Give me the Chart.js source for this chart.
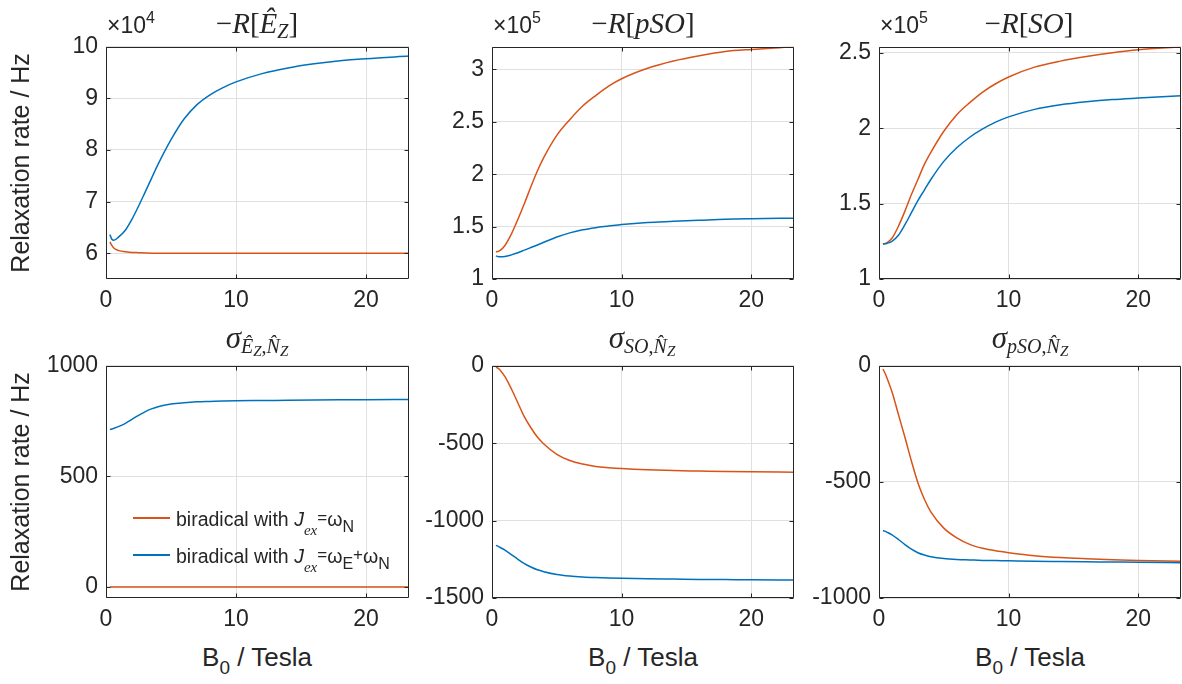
<!DOCTYPE html>
<html>
<head>
<meta charset="utf-8">
<script src="https://cdn.jsdelivr.net/npm/chart.js@4.4.0/dist/chart.umd.min.js"></script>
<style>
body { margin: 0; background: #fff; }
#fig { position: relative; width: 1182px; height: 684px; overflow: hidden; color: #262626;
       font-family: "Liberation Sans", Arial, sans-serif; }
.panel { position: absolute; }
.ttl { position: absolute; white-space: nowrap; transform: translateX(-50%);
       font-family: "Liberation Serif", "DejaVu Serif", serif; font-size: 29px; line-height: 29px; }
.ttl i { font-style: italic; }
.ttl .s1 { font-size: 20px; position: relative; top: 5px; }
.ttl .s2 { font-size: 15px; position: relative; top: 3px; }
.ttl.bt { font-size: 31px; line-height: 31px; }
.expo { position: absolute; font-size: 23px; line-height: 23px; white-space: nowrap; }
.expo span { font-size: 16px; position: relative; top: -10px; }
.xlab { position: absolute; font-size: 26px; line-height: 26px; white-space: nowrap; transform: translateX(-50%); }
.xlab span { font-size: 19px; position: relative; top: 8px; }
.leg { position: absolute; font-size: 19.5px; line-height: 19px; white-space: nowrap; }
.leg .sw { position: absolute; left: -43px; top: 7px; width: 37px; height: 1.6px; }
.leg .ex { font-family: "Liberation Serif", serif; font-style: italic; font-size: 15px; position: relative; top: 9px; }
.leg .eq { font-size: 17px; position: relative; top: -3px; }
.leg .sb { font-size: 16px; position: relative; top: 6px; }
</style>
</head>
<body>
<div id="fig">
  <div class="panel" style="left:0px;top:25px"><canvas id="c1" width="413" height="294"></canvas></div>
  <div class="panel" style="left:402px;top:25px"><canvas id="c2" width="396" height="294"></canvas></div>
  <div class="panel" style="left:789px;top:25px"><canvas id="c3" width="393" height="294"></canvas></div>
  <div class="panel" style="left:0px;top:344px"><canvas id="c4" width="413" height="294"></canvas></div>
  <div class="panel" style="left:402px;top:344px"><canvas id="c5" width="396" height="294"></canvas></div>
  <div class="panel" style="left:789px;top:344px"><canvas id="c6" width="393" height="294"></canvas></div>

  <div class="expo" style="left:107px;top:14px">×10<span>4</span></div>
  <div class="expo" style="left:493px;top:14px">×10<span>5</span></div>
  <div class="expo" style="left:880px;top:14px">×10<span>5</span></div>

  <div class="ttl" style="left:257px;top:9px">−<i>R</i>[<i>Ê</i><i class="s1">Z</i>]</div>
  <div class="ttl" style="left:643px;top:9px">−<i>R</i>[<i>pSO</i>]</div>
  <div class="ttl" style="left:1029px;top:9px">−<i>R</i>[<i>SO</i>]</div>

  <div class="ttl bt" style="left:257px;top:322px"><i>σ</i><span class="s1"><i>Ê</i><i class="s2">Z</i>,<i>N̂</i><i class="s2">Z</i></span></div>
  <div class="ttl bt" style="left:642px;top:322px"><i>σ</i><span class="s1"><i>SO</i>,<i>N̂</i><i class="s2">Z</i></span></div>
  <div class="ttl bt" style="left:1030px;top:322px"><i>σ</i><span class="s1"><i>pSO</i>,<i>N̂</i><i class="s2">Z</i></span></div>

  <div class="xlab" style="left:257px;top:644px">B<span>0</span> / Tesla</div>
  <div class="xlab" style="left:643px;top:644px">B<span>0</span> / Tesla</div>
  <div class="xlab" style="left:1030px;top:644px">B<span>0</span> / Tesla</div>

  <div class="leg" style="left:176px;top:510px"><div class="sw" style="background:#D95319"></div>biradical with <i>J</i><span class="ex">ex</span><span class="eq">=</span>ω<span class="sb">N</span></div>
  <div class="leg" style="left:176px;top:547px"><div class="sw" style="background:#0072BD"></div>biradical with <i>J</i><span class="ex">ex</span><span class="eq">=</span>ω<span class="sb">E</span><span class="eq">+</span>ω<span class="sb">N</span></div>
</div>

<script>
// magnetic field, Tesla
const B0 = [0.3, 0.45, 0.6, 1, 1.5, 2, 2.5, 3, 3.5, 4, 5, 6, 7, 8, 9, 10, 12, 14, 16, 18, 20, 23.3];

// -R[Ez]  (x10^4 Hz)
const rEz_N  = [6.22, 6.15, 6.10, 6.05, 6.03, 6.015, 6.01, 6.005, 6.0, 6.0, 6.0, 6.0, 6.0, 6.0, 6.0, 6.0, 6.0, 6.0, 6.0, 6.0, 6.0, 6.0];
const rEz_EN = [6.36, 6.27, 6.25, 6.32, 6.45, 6.66, 6.91, 7.18, 7.45, 7.72, 8.2, 8.6, 8.88, 9.07, 9.21, 9.32, 9.48, 9.59, 9.67, 9.73, 9.77, 9.82];

// -R[pSO]  (x10^5 Hz)
const rPSO_N  = [1.26, 1.262, 1.27, 1.32, 1.43, 1.57, 1.72, 1.88, 2.03, 2.16, 2.37, 2.52, 2.65, 2.75, 2.84, 2.91, 3.01, 3.08, 3.13, 3.17, 3.19, 3.215];
const rPSO_EN = [1.22, 1.215, 1.213, 1.215, 1.23, 1.25, 1.275, 1.30, 1.325, 1.35, 1.40, 1.44, 1.47, 1.49, 1.505, 1.52, 1.54, 1.55, 1.56, 1.57, 1.575, 1.58];

// -R[SO]  (x10^5 Hz)
const rSO_N  = [1.232, 1.235, 1.24, 1.27, 1.35, 1.45, 1.56, 1.66, 1.76, 1.84, 1.98, 2.09, 2.17, 2.24, 2.295, 2.34, 2.405, 2.445, 2.475, 2.5, 2.52, 2.54];
const rSO_EN = [1.232, 1.233, 1.236, 1.25, 1.29, 1.36, 1.44, 1.52, 1.59, 1.66, 1.78, 1.87, 1.94, 1.995, 2.04, 2.075, 2.125, 2.155, 2.175, 2.19, 2.20, 2.215];

// sigma Ez,Nz  (Hz)
const sEz_N  = [0, 0, 0, 0, 0, 0, 0, 0, 0, 0, 0, 0, 0, 0, 0, 0, 0, 0, 0, 0, 0, 0];
const sEz_EN = [712, 714, 717, 726, 740, 758, 776, 792, 805, 815, 827, 833, 837, 839, 841, 842, 843, 844, 845, 846, 847, 848];

// sigma SO,Nz  (Hz)
const sSO_N  = [-10, -15, -25, -70, -150, -240, -330, -400, -460, -505, -572, -612, -635, -650, -658, -664, -672, -677, -680, -683, -685, -687];
const sSO_EN = [-1160, -1165, -1172, -1190, -1220, -1250, -1278, -1300, -1318, -1330, -1348, -1358, -1364, -1368, -1371, -1373, -1376, -1378, -1380, -1381, -1382, -1384];

// sigma pSO,Nz  (Hz)
const sPSO_N  = [-14, -30, -50, -112, -210, -308, -410, -504, -575, -629, -699, -741, -769, -786, -797, -805, -818, -826, -831, -835, -838, -842];
const sPSO_EN = [-710, -712, -716, -728, -748, -770, -790, -805, -815, -822, -830, -834, -836, -838, -839, -840, -842, -843, -844, -845, -846, -848];

const xTicks = [0, 10, 20];
const yTicks1 = [6, 7, 8, 9, 10];
const yTicks2 = [1, 1.5, 2, 2.5, 3];
const yTicks3 = [1, 1.5, 2, 2.5];
const yTicks4 = [0, 500, 1000];
const yTicks5 = [-1500, -1000, -500, 0];
const yTicks6 = [-1000, -500, 0];

const AXIS = '#262626';
const GRID = '#e0e0e0';

// matlab style box with inward ticks on all four sides
const boxPlugin = {
    id: 'box',
    afterDraw(chart) {
        const ctx = chart.ctx;
        const a = chart.chartArea;
        const x = chart.scales.x, y = chart.scales.y;
        const l = Math.round(a.left) + 0.5, r = Math.round(a.right) - 0.5;
        const t = Math.round(a.top) + 0.5, b = Math.round(a.bottom) - 0.5;
        ctx.save();
        ctx.strokeStyle = AXIS;
        ctx.lineWidth = 1;
        ctx.beginPath();
        x.ticks.forEach(tk => {
            const px = Math.round(x.getPixelForValue(tk.value)) + 0.5;
            ctx.moveTo(px, b); ctx.lineTo(px, b - 4);
            ctx.moveTo(px, t); ctx.lineTo(px, t + 4);
        });
        y.ticks.forEach(tk => {
            const py = Math.round(y.getPixelForValue(tk.value)) + 0.5;
            ctx.moveTo(l, py); ctx.lineTo(l + 4, py);
            ctx.moveTo(r, py); ctx.lineTo(r - 4, py);
        });
        ctx.rect(l, t, r - l, b - t);
        ctx.stroke();
        ctx.restore();
    }
};

function makePanel(id, red, blue, yMin, yMax, yTicks, leftW, rightPad, yTitle) {
    const toPts = vals => B0.map((b, i) => ({x: b, y: vals[i]}));
    new Chart(document.getElementById(id), {
        type: 'line',
        data: {
            datasets: [
                {data: toPts(red), borderColor: '#D95319', borderWidth: 1.5, pointRadius: 0, cubicInterpolationMode: 'monotone', order: 1},
                {data: toPts(blue), borderColor: '#0072BD', borderWidth: 1.5, pointRadius: 0, cubicInterpolationMode: 'monotone', order: 0}
            ]
        },
        options: {
            responsive: false,
            animation: false,
            layout: {padding: {left: 0, right: rightPad, top: 16, bottom: 0}},
            plugins: {legend: {display: false}, tooltip: {enabled: false}},
            scales: {
                x: {
                    type: 'linear', min: 0, max: 23.3,
                    afterBuildTicks: s => { s.ticks = xTicks.map(v => ({value: v})); },
                    afterFit: s => { s.height = 40; },
                    grid: {color: GRID, drawTicks: false},
                    border: {display: false},
                    ticks: {color: AXIS, padding: 8, maxRotation: 0, font: {family: 'Liberation Sans', size: 23}, callback: v => String(v)}
                },
                y: {
                    type: 'linear', min: yMin, max: yMax,
                    afterBuildTicks: s => { s.ticks = yTicks.map(v => ({value: v})); },
                    afterFit: s => { s.width = leftW; },
                    grid: {color: GRID, drawTicks: false},
                    border: {display: false},
                    ticks: {color: AXIS, padding: 8, font: {family: 'Liberation Sans', size: 23}, callback: v => String(v)},
                    title: {display: !!yTitle, text: yTitle || '', color: AXIS, padding: {top: 7, bottom: 0},
                            font: {family: 'Liberation Sans', size: 25}}
                }
            }
        },
        plugins: [boxPlugin]
    });
}

makePanel('c1', rEz_N, rEz_EN, 5.5, 10, yTicks1, 106, 4, 'Relaxation rate / Hz');
makePanel('c2', rPSO_N, rPSO_EN, 1, 3.215, yTicks2, 90, 4, null);
makePanel('c3', rSO_N, rSO_EN, 1, 2.54, yTicks3, 90, 1, null);
makePanel('c4', sEz_N, sEz_EN, -50, 1000, yTicks4, 106, 4, 'Relaxation rate / Hz');
makePanel('c5', sSO_N, sSO_EN, -1500, 0, yTicks5, 90, 4, null);
makePanel('c6', sPSO_N, sPSO_EN, -1000, 0, yTicks6, 90, 1, null);
</script>
</body>
</html>
